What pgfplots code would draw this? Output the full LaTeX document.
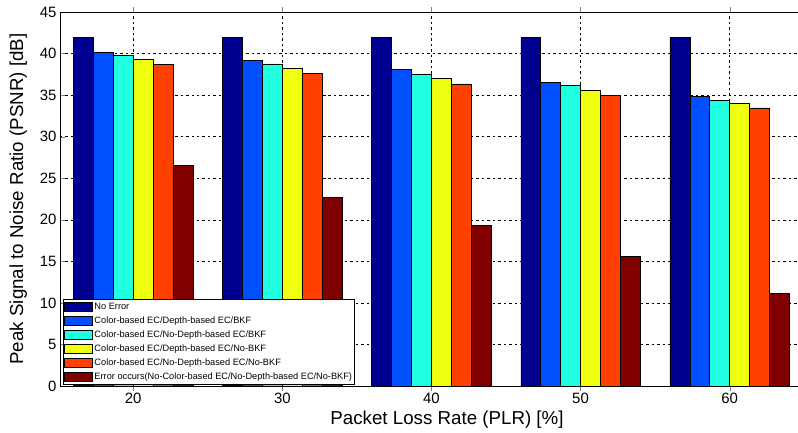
\documentclass[border=0pt]{standalone}
\usepackage{pgfplots}
\pgfplotsset{compat=1.18}
\usepackage{fontspec}
\setmainfont{Liberation Sans}
\definecolor{c1}{HTML}{000090}
\definecolor{c2}{HTML}{0050FF}
\definecolor{c3}{HTML}{20FFDF}
\definecolor{c4}{HTML}{F0FF10}
\definecolor{c5}{HTML}{FF4000}
\definecolor{c6}{HTML}{800000}
\begin{document}
\begin{tikzpicture}
\path[use as bounding box] (-60bp,-47bp) rectangle (738bp,386bp);
\begin{axis}[
  at={(0,0)}, anchor=south west,
  scale only axis, width=774bp, height=374bp,
  xmin=15.09, xmax=67.0, ymin=0, ymax=45,
  xtick={20,30,40,50,60}, ytick={0,5,...,45},
  tick align=inside, major tick length=5bp,
  grid=major,
  major grid style={black, line width=0.5pt, dash pattern=on 2.5pt off 3pt},
  axis line style={black, line width=0.8pt},
  /pgf/number format/assume math mode=true,
  ticklabel style={font=\fontsize{15}{15}\selectfont},
  xticklabel style={yshift=1.5bp},
  xlabel={Packet Loss Rate (PLR) [\%]},
  ylabel={Peak Signal to Noise Ratio (PSNR) [dB]},
  label style={font=\fontsize{18.8}{18.8}\selectfont},
  xlabel style={yshift=0bp},
  ylabel style={yshift=6bp},
  ybar, bar width=1.3333,
  every axis plot/.append style={draw=black, line width=0.6pt},
  legend cell align=left,
  legend image code/.code={\draw[#1] (0bp,-4.5bp) rectangle (28bp,4.5bp);},
  legend style={at={(rel axis cs:0,0)}, anchor=south west, xshift=3bp, yshift=1bp,
    font=\fontsize{9.25}{10}\selectfont, draw=black, line width=0.8pt,
    inner sep=1bp, row sep=1bp,
    nodes={inner sep=1.5bp, text height=7.5bp, text depth=2.5bp}},
]
\addplot[fill=c1, bar shift=-3.3333] coordinates {(20,41.9) (30,41.9) (40,41.9) (50,41.9) (60,41.9)};
\addplot[fill=c2, bar shift=-2] coordinates {(20,40.1) (30,39.15) (40,38.05) (50,36.55) (60,34.8)};
\addplot[fill=c3, bar shift=-0.6667] coordinates {(20,39.75) (30,38.75) (40,37.55) (50,36.2) (60,34.4)};
\addplot[fill=c4, bar shift=0.6667] coordinates {(20,39.25) (30,38.2) (40,37.05) (50,35.6) (60,34.05)};
\addplot[fill=c5, bar shift=2] coordinates {(20,38.65) (30,37.65) (40,36.35) (50,35.0) (60,33.45)};
\addplot[fill=c6, bar shift=3.3333] coordinates {(20,26.5) (30,22.7) (40,19.35) (50,15.6) (60,11.15)};
\legend{No Error, Color-based EC/Depth-based EC/BKF, Color-based EC/No-Depth-based EC/BKF, Color-based EC/Depth-based EC/No-BKF, Color-based EC/No-Depth-based EC/No-BKF, Error occurs(No-Color-based EC/No-Depth-based EC/No-BKF)}
\end{axis}
\end{tikzpicture}
\end{document}
